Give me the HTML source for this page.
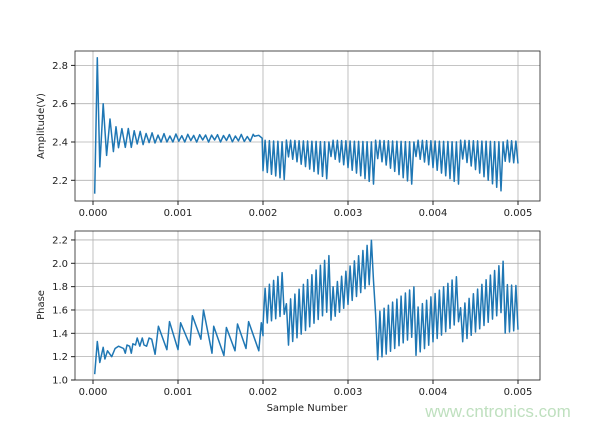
<!DOCTYPE html>
<html><head><meta charset="utf-8"><style>
body{margin:0;background:#fff;width:600px;height:427px;overflow:hidden}
text{font-family:"DejaVu Sans","Liberation Sans",sans-serif;font-size:10px;fill:#222}
</style></head><body>
<svg id="s" width="600" height="427" xmlns="http://www.w3.org/2000/svg">
<rect width="600" height="427" fill="#fff"/>
<g id="grid" stroke="#b0b0b0" stroke-width="0.8"></g>
<path id="p1" fill="none" stroke="#1f77b4" stroke-width="1.5" stroke-linejoin="round"/>
<path id="p2" fill="none" stroke="#1f77b4" stroke-width="1.5" stroke-linejoin="round"/>
<rect x="75" y="51" width="465" height="150" fill="none" stroke="#222" stroke-width="0.8"/>
<rect x="75" y="231" width="465" height="149" fill="none" stroke="#222" stroke-width="0.8"/>
<g id="lab"></g>
<text x="307" y="411" text-anchor="middle">Sample Number</text>
<text transform="translate(44,126) rotate(-90)" text-anchor="middle">Amplitude(V)</text>
<text transform="translate(44,305) rotate(-90)" text-anchor="middle">Phase</text>
<text x="498" y="417" text-anchor="middle" style="font-size:17px;fill:#bfe0bf;font-family:'Liberation Sans',sans-serif">www.cntronics.com</text>
</svg>
<script>
var X=function(v){return 93+v*85000};
var Y1=function(v){return 142-(v-2.4)*191.5};
var Y2=function(v){return 380-(v-1.0)*116.7};
var g=document.getElementById('grid'),lab=document.getElementById('lab'),h='',l='';
for(var i=0;i<=5;i++){var x=X(i*0.001);
 h+='<line x1="'+x+'" y1="51" x2="'+x+'" y2="201"/><line x1="'+x+'" y1="231" x2="'+x+'" y2="380"/>';
 l+='<line x1="'+x+'" y1="201" x2="'+x+'" y2="205" stroke="#222"/><line x1="'+x+'" y1="380" x2="'+x+'" y2="384" stroke="#222"/>';
 l+='<text x="'+x+'" y="216" text-anchor="middle">'+(i/1000).toFixed(3)+'</text><text x="'+x+'" y="395" text-anchor="middle">'+(i/1000).toFixed(3)+'</text>';}
[2.2,2.4,2.6,2.8].forEach(function(v){var y=Y1(v);h+='<line x1="75" y1="'+y+'" x2="540" y2="'+y+'"/>';
 l+='<line x1="71" y1="'+y+'" x2="75" y2="'+y+'" stroke="#222"/><text x="68" y="'+(y+3.5)+'" text-anchor="end">'+v.toFixed(1)+'</text>';});
[1.0,1.2,1.4,1.6,1.8,2.0,2.2].forEach(function(v){var y=Y2(v);h+='<line x1="75" y1="'+y+'" x2="540" y2="'+y+'"/>';
 l+='<line x1="71" y1="'+y+'" x2="75" y2="'+y+'" stroke="#222"/><text x="68" y="'+(y+3.5)+'" text-anchor="end">'+v.toFixed(1)+'</text>';});
g.innerHTML=h;lab.innerHTML=l;
var P=[[0.00002,1.05],[0.00005,1.33],[0.00008,1.15],[0.00012,1.28],[0.00014,1.18],[0.00017,1.25],[0.00022,1.2],[0.00026,1.27],[0.0003,1.29],[0.00036,1.27],[0.00038,1.23],[0.0004,1.3],[0.00043,1.29],[0.00045,1.23],[0.00047,1.31],[0.0005,1.3],[0.00052,1.36],[0.00055,1.29],[0.00058,1.36],[0.0006,1.3],[0.00063,1.29],[0.00066,1.36],[0.00069,1.35],[0.00073,1.22]];
var pk=[[0.00077,1.46],[0.0009,1.5],[0.00103,1.49],[0.00117,1.55],[0.0013,1.6],[0.00142,1.46],[0.00157,1.45],[0.0017,1.48],[0.00183,1.5]];
var lw=[0.00087,1.26,0.001,1.26,0.00114,1.3,0.00127,1.35,0.0014,1.23,0.00154,1.21,0.00167,1.25,0.0018,1.27,0.00195,1.25];
for(var j=0;j<pk.length;j++){P.push(pk[j]);P.push([lw[2*j],lw[2*j+1]]);}
P.push([0.00198,1.49],[0.002,1.38]);
var d1='',d2='';
P.forEach(function(q,i){d2+=(i?'L':'M')+X(q[0]).toFixed(1)+' '+Y2(q[1]).toFixed(1);});
var n=0,t;
var A=[[0.00002,2.13],[0.00005,2.84],[0.00008,2.27],[0.00012,2.6],[0.00016,2.33],[0.0002,2.52],[0.00024,2.35],[0.00027,2.48],[0.0003,2.37],[0.00034,2.47]];
A.forEach(function(q,i){d1+=(i?'L':'M')+X(q[0]).toFixed(1)+' '+Y1(q[1]).toFixed(1);});
for(t=0.00038;t<0.0019;t+=0.000035,n++){
 var dec=Math.exp(-(t-0.00038)/0.0002),odd=n%2;
 var a=2.42+(odd?1:-1)*(0.04*dec+0.008+0.012*Math.abs(Math.sin(n*2.3)));
 d1+='L'+X(t).toFixed(1)+' '+Y1(a).toFixed(1);
}
d1+='L'+X(0.0019)+' '+Y1(2.43)+'L'+X(0.00195)+' '+Y1(2.435)+'L'+X(0.00199)+' '+Y1(2.42);
var dt=0.000025;
var segs=[0.002,0.00227,0.00278,0.0033,0.00378,0.0043,0.00484,0.0051];
var lo1=[2.25,2.33,2.33,2.33,2.33,2.33,2.3],lo1e=[2.2,2.2,2.18,2.17,2.18,2.13,2.28];
var lo2=[1.47,1.28,1.5,1.15,1.2,1.3,1.4],lo2e=[1.57,1.6,1.85,1.38,1.5,1.6,1.45];
var hi2=[1.77,1.65,1.76,1.55,1.6,1.6,1.82],hi2e=[1.95,2.07,2.22,1.8,1.9,2.03,1.8];
n=0;
for(t=0.002;t<=0.005001;t+=dt,n++){
 var odd=n%2,k=0;while(t>=segs[k+1])k++;var f=(t-segs[k])/(segs[k+1]-segs[k]);
 var a=odd?2.41-0.01*f:lo1[k]+(lo1e[k]-lo1[k])*f;
 var p=odd?hi2[k]+(hi2e[k]-hi2[k])*f:lo2[k]+(lo2e[k]-lo2[k])*f;
 d1+='L'+X(t).toFixed(1)+' '+Y1(a).toFixed(1);
 d2+='L'+X(t).toFixed(1)+' '+Y2(p).toFixed(1);
}
document.getElementById('p1').setAttribute('d',d1);
document.getElementById('p2').setAttribute('d',d2);
</script>
</body></html>
